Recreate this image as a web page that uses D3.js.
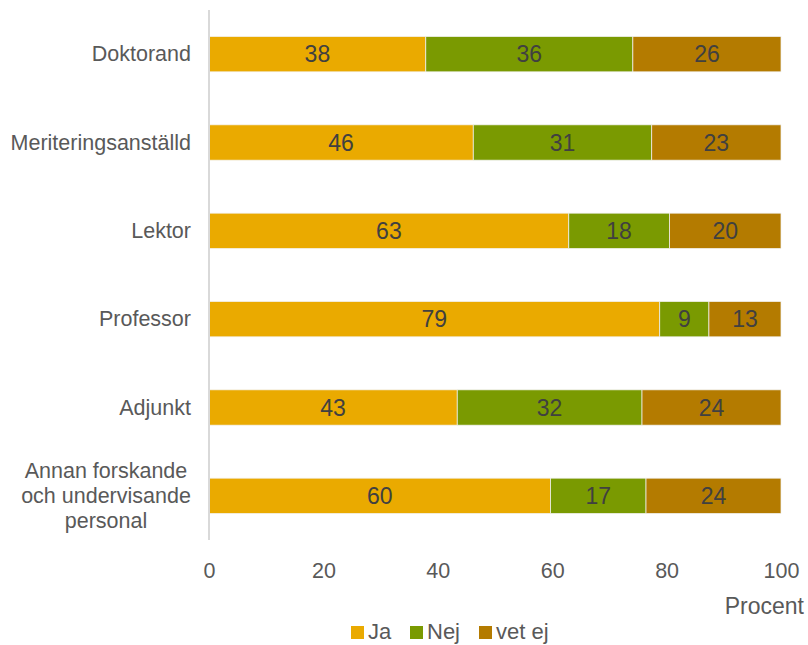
<!DOCTYPE html>
<html><head><meta charset="utf-8">
<script src="https://cdn.jsdelivr.net/npm/d3@7"></script>
<style>body{margin:0;background:#fff}svg{display:block}text{font-family:"Liberation Sans",Arial,sans-serif}</style>
</head><body>
<svg id="c" width="808" height="645"></svg>
<script>
const categories = ["Doktorand","Meriteringsanställd","Lektor","Professor","Adjunkt","Annan forskande och undervisande personal"];
const categoryLines = [["Doktorand"],["Meriteringsanställd"],["Lektor"],["Professor"],["Adjunkt"],["Annan forskande","och undervisande","personal"]];
const seriesNames = ["Ja","Nej","vet ej"];
const ja    = [37.9, 46.2, 62.9, 78.8, 43.4, 59.7];
const nej   = [36.2, 31.2, 17.6, 8.6, 32.3, 16.7];
const vetEj = [25.9, 22.6, 19.5, 12.6, 24.3, 23.6];
const xTicks = [0,20,40,60,80,100];
const colors = ["#EAAA00","#7A9A01","#B47B00"];

const svg = d3.select("#c");
const x = d3.scaleLinear().domain([0,100]).range([209,781]);
const y = d3.scaleBand().domain(categories).range([10,540]).paddingInner(0.6).paddingOuter(0.3);

const seriesVals = [ja, nej, vetEj];
categories.forEach((c,i)=>{
  let acc = 0;
  seriesVals.forEach((arr,s)=>{
    const v = arr[i];
    const x0 = x(acc), x1 = x(acc+v);
    svg.append("rect").attr("x",x0).attr("y",y(c)).attr("width",x1-x0).attr("height",y.bandwidth())
      .attr("fill",colors[s]).attr("stroke","#f2f2f2").attr("stroke-width",0.75);
    svg.append("text").attr("x",(x0+x1)/2).attr("y",y(c)+y.bandwidth()/2).attr("dy","0.36em")
      .attr("text-anchor","middle").attr("font-size",23).attr("fill","#404040").text(Math.round(v));
    acc += v;
  });
});

// axis line
svg.append("line").attr("x1",209).attr("x2",209).attr("y1",10).attr("y2",540).attr("stroke","#d9d9d9").attr("stroke-width",2);

// category labels
categories.forEach((c,i)=>{
  const lines = categoryLines[i];
  const cy = y(c)+y.bandwidth()/2;
  const lh = 25;
  const multi = lines.length>1;
  const t = svg.append("text").attr("text-anchor", multi?"middle":"end").attr("font-size",21.5).attr("fill","#595959");
  lines.forEach((l,k)=>{
    t.append("tspan").attr("x", multi?106:191).attr("y", cy + (k-(lines.length-1)/2)*lh).attr("dy","0.34em").text(l);
  });
});

// x tick labels
const xAxis = d3.axisBottom(x).tickValues(xTicks).tickSize(0).tickPadding(0);
const gx = svg.append("g").attr("transform","translate(0,578)").call(xAxis);
gx.select(".domain").remove();
gx.selectAll("text").attr("dy",null).attr("y",0).attr("font-size",21.5).attr("fill","#595959").attr("font-family","Liberation Sans, Arial, sans-serif");

svg.append("text").attr("x",804).attr("y",614).attr("text-anchor","end").attr("font-size",23).attr("fill","#595959").text("Procent");

// legend
const legX = [351,410,479];
seriesNames.forEach((n,s)=>{
  svg.append("rect").attr("x",legX[s]).attr("y",626).attr("width",13).attr("height",13).attr("fill",colors[s]);
  svg.append("text").attr("x",legX[s]+17).attr("y",639).attr("font-size",22).attr("fill","#595959").text(n);
});
</script>
</body></html>
